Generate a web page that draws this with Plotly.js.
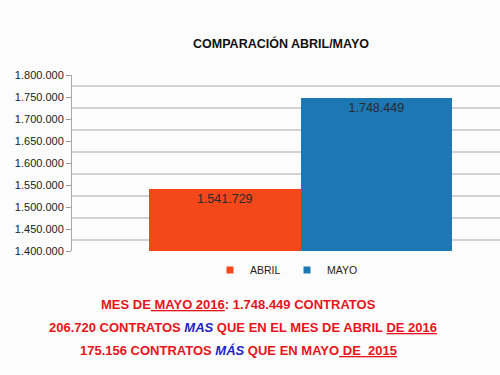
<!DOCTYPE html>
<html>
<head>
<meta charset="utf-8">
<script src="https://cdn.plot.ly/plotly-3.0.1.min.js"></script>
<style>html,body{margin:0;padding:0;background:#fcfcfc;}#chart{width:500px;height:375px;}</style>
</head>
<body>
<div id="chart"></div>
<script>
const categories = ["COMPARACIÓN"];
const seriesNames = ["ABRIL", "MAYO"];
const abrilValues = [1541729];
const mayoValues = [1748449];
const valueLabels = [["1.541.729"], ["1.748.449"]];
const tickValues = [1400000, 1450000, 1500000, 1550000, 1600000, 1650000, 1700000, 1750000, 1800000];
const tickLabels = ["1.400.000", "1.450.000", "1.500.000", "1.550.000", "1.600.000", "1.650.000", "1.700.000", "1.750.000", "1.800.000"];
const colors = ["#F4471A", "#1C77B3"];

const labelFont = {family: "Liberation Sans, Arial, sans-serif", size: 12.5, color: "#2a2a2a"};
const traces = [
  {type: "bar", name: seriesNames[0], x: [0], y: abrilValues, text: valueLabels[0],
   textposition: "inside", insidetextanchor: "end", textangle: 0, textfont: labelFont,
   marker: {color: colors[0]}, hoverinfo: "none", showlegend: false},
  {type: "bar", name: seriesNames[1], x: [0], y: mayoValues, text: valueLabels[1],
   textposition: "inside", insidetextanchor: "end", textangle: 0, textfont: labelFont,
   marker: {color: colors[1]}, hoverinfo: "none", showlegend: false},
  {type: "scatter", name: seriesNames[0], x: [null], y: [null], mode: "markers",
   marker: {symbol: "square", size: 7, color: colors[0]}, hoverinfo: "none"},
  {type: "scatter", name: seriesNames[1], x: [null], y: [null], mode: "markers",
   marker: {symbol: "square", size: 7, color: colors[1]}, hoverinfo: "none"},
  {type: "scatter", x: [0], y: [1400000], yaxis: "y2", mode: "markers",
   marker: {opacity: 0}, showlegend: false, hoverinfo: "none"}
];

const red = "#E8141B", blue = "#1F1FC8";
const layout = {
  width: 500, height: 375,
  margin: {l: 72, r: 0, t: 75, b: 124},
  paper_bgcolor: "#fcfcfc", plot_bgcolor: "#fcfcfc",
  font: {family: "Liberation Sans, Arial, sans-serif", color: "#222"},
  barmode: "group", bargap: 0, bargroupgap: 0,
  showlegend: true,
  title: {text: "<b>COMPARACIÓN ABRIL/MAYO</b>", font: {size: 12.5, color: "#111"},
          x: (281 - 72) / 428, xref: "paper", xanchor: "center", y: 1 - 44 / 375, yanchor: "middle"},
  xaxis: {range: [-0.754, 0.658], showticklabels: false, showgrid: false, zeroline: false,
          showline: false, ticks: "", fixedrange: true},
  yaxis: {range: [1400000, 1800000], tickvals: tickValues, ticktext: tickLabels,
          ticks: "outside", ticklen: 5, tickcolor: "#999", tickfont: {size: 11, color: "#222"},
          showgrid: false, zeroline: false, showline: true, linecolor: "#aaa", linewidth: 1},
  yaxis2: {range: [1400000, 1800000], overlaying: "y", side: "left", showticklabels: false,
           tick0: 1425000, dtick: 50000, ticks: "", showgrid: true, gridcolor: "#d2d2d2",
           gridwidth: 1.5, zeroline: false, showline: false},
  legend: {orientation: "h", x: (287 - 72) / 428, xanchor: "center", y: -0.108, yanchor: "middle",
           font: {size: 10.5, color: "#222"}, bgcolor: "rgba(0,0,0,0)",
           entrywidth: 32, entrywidthmode: "pixels", tracegroupgap: 0},
  annotations: [
    {xref: "paper", yref: "paper", x: (238.5 - 72) / 428, y: (251 - 304) / 176, xanchor: "center", yanchor: "middle", showarrow: false,
     font: {size: 13, color: red},
     text: "<b>MES DE<u> MAYO 2016</u>: 1.748.449 CONTRATOS</b>"},
    {xref: "paper", yref: "paper", x: (242.5 - 72) / 428, y: (251 - 327) / 176, xanchor: "center", yanchor: "middle", showarrow: false,
     font: {size: 13, color: red},
     text: "<b>206.720 CONTRATOS <span style='color:" + blue + "'><i>MAS</i></span> QUE EN EL MES DE ABRIL <u>DE 2016</u></b>"},
    {xref: "paper", yref: "paper", x: (238.5 - 72) / 428, y: (251 - 350) / 176, xanchor: "center", yanchor: "middle", showarrow: false,
     font: {size: 13, color: red},
     text: "<b>175.156 CONTRATOS <span style='color:" + blue + "'><i>MÁS</i></span> QUE EN MAYO<u> DE  2015</u></b>"}
  ]
};

Plotly.newPlot("chart", traces, layout, {staticPlot: true, displayModeBar: false});
</script>
</body>
</html>
